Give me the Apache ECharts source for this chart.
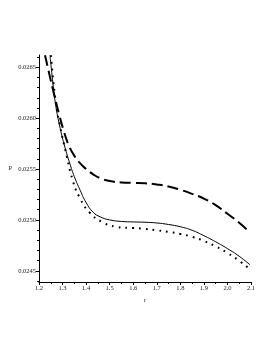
<!DOCTYPE html>
<html>
<head>
<meta charset="utf-8">
<script src="https://cdn.jsdelivr.net/npm/echarts@6/dist/echarts.min.js"></script>
<style>html,body{margin:0;padding:0;background:#fff;}#c{width:273px;height:353px;}</style>
</head>
<body>
<div id="c"></div>
<script>
// Data
var dashedR = [1.2255, 1.245, 1.265, 1.285, 1.305, 1.325, 1.35, 1.375, 1.40, 1.43, 1.46, 1.50, 1.55, 1.60, 1.65, 1.70, 1.75, 1.80, 1.85, 1.90, 1.95, 2.00, 2.05, 2.0956];
var dashedP = [0.026618, 0.026420, 0.026225, 0.026040, 0.025875, 0.025740, 0.025630, 0.025555, 0.025500, 0.025448, 0.025410, 0.025382, 0.025368, 0.025364, 0.025360, 0.025348, 0.025328, 0.025296, 0.025256, 0.025210, 0.025145, 0.025060, 0.024972, 0.024877];

var solidR = [1.2467, 1.2573, 1.27, 1.29, 1.31, 1.33, 1.35, 1.375, 1.40, 1.43, 1.46, 1.50, 1.55, 1.60, 1.65, 1.70, 1.75, 1.80, 1.85, 1.90, 1.95, 2.00, 2.05, 2.0956];
var solidP = [0.026618, 0.026380, 0.026140, 0.025900, 0.025715, 0.025560, 0.025425, 0.025290, 0.025170, 0.025075, 0.025030, 0.025000, 0.024985, 0.024980, 0.024977, 0.024970, 0.024955, 0.024933, 0.024898, 0.024845, 0.024785, 0.024718, 0.024643, 0.024559];

var dottedR = [1.2509, 1.27, 1.2913, 1.3125, 1.3435, 1.3719, 1.4143, 1.4708, 1.5277, 1.5841, 1.60, 1.65, 1.70, 1.75, 1.80, 1.85, 1.90, 1.95, 2.00, 2.05, 2.09];
var dottedP = [0.026618, 0.026175, 0.025899, 0.025682, 0.025387, 0.025222, 0.025074, 0.024976, 0.024933, 0.024921, 0.024920, 0.024912, 0.024898, 0.024882, 0.024862, 0.024834, 0.024793, 0.024740, 0.024675, 0.024598, 0.024525];

var yTickLabels = [0.0245, 0.0250, 0.0255, 0.0260, 0.0265];
var xTickLabels = [1.2, 1.3, 1.4, 1.5, 1.6, 1.7, 1.8, 1.9, 2.0, 2.1];

function pairs(xs, ys) { return xs.map(function (x, i) { return [x, ys[i]]; }); }

var yMinor = [];
for (var k = 244; k <= 266; k++) { if (k % 5 !== 0) yMinor.push(k / 10000); }

var font = 'Liberation Serif';
var Y_MIN = 0.02439, Y_MAX = 0.02662;

var chart = echarts.init(document.getElementById('c'), null, {renderer: 'canvas'});
chart.setOption({
  animation: false,
  backgroundColor: '#fff',
  grid: {left: 39, right: 22, top: 55, bottom: 71, containLabel: false},
  xAxis: {
    type: 'value', min: 1.2, max: 2.1, interval: 0.1,
    name: 'r', nameLocation: 'middle', nameGap: 12,
    nameTextStyle: {fontFamily: font, fontSize: 6.5, color: '#222'},
    axisLine: {show: true, onZero: false, lineStyle: {color: '#000', width: 1}},
    axisTick: {show: true, inside: false, length: 3, lineStyle: {color: '#000'}},
    minorTick: {show: true, splitNumber: 2, length: 2, lineStyle: {color: '#000'}},
    axisLabel: {fontFamily: font, fontSize: 6.5, color: '#222', margin: 3,
      formatter: function (v) { return v.toFixed(1); }},
    splitLine: {show: false}
  },
  yAxis: [{
    type: 'value', min: Y_MIN, max: Y_MAX,
    name: 'P', nameLocation: 'middle', nameGap: 24, nameRotate: 0,
    nameTextStyle: {fontFamily: font, fontSize: 6.5, color: '#222'},
    axisLine: {show: true, onZero: false, lineStyle: {color: '#000', width: 1}},
    axisTick: {show: true, inside: false, length: 3, customValues: yTickLabels, lineStyle: {color: '#000'}},
    axisLabel: {fontFamily: font, fontSize: 6.5, color: '#222', margin: 3, customValues: yTickLabels,
      formatter: function (v) { return v.toFixed(4); }},
    splitLine: {show: false}
  }, {
    type: 'value', min: Y_MIN, max: Y_MAX, position: 'left',
    axisLine: {show: false},
    axisTick: {show: true, inside: false, length: 2, customValues: yMinor, lineStyle: {color: '#000'}},
    axisLabel: {show: false},
    splitLine: {show: false}
  }],
  series: [{
    type: 'line', data: pairs(dashedR, dashedP), smooth: 0.5, showSymbol: false, clip: true,
    lineStyle: {color: '#000', width: 2, type: [11, 5]}
  }, {
    type: 'line', data: pairs(solidR, solidP), smooth: 0.5, showSymbol: false, clip: true,
    lineStyle: {color: '#000', width: 1}
  }, {
    type: 'line', data: pairs(dottedR, dottedP), smooth: 0.5, showSymbol: false, clip: true,
    lineStyle: {color: '#000', width: 2, type: [1.8, 5]}
  }]
});
</script>
</body>
</html>
